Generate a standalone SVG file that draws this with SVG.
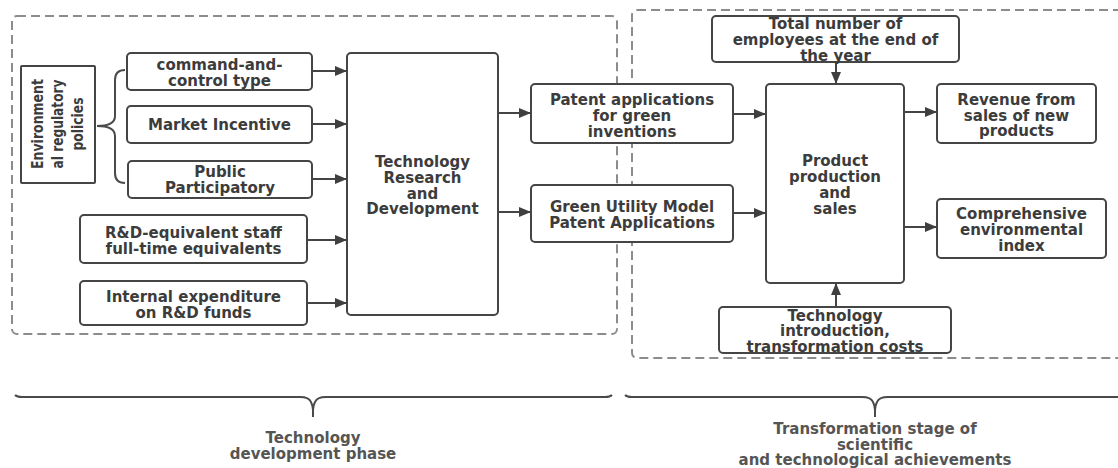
<svg xmlns="http://www.w3.org/2000/svg" width="1118" height="468" viewBox="0 0 1118 468">
  <defs>
    <marker id="arrow" viewBox="0 0 12 10" refX="12" refY="5" markerWidth="12" markerHeight="10" markerUnits="userSpaceOnUse" orient="auto">
      <path d="M0,0 L12,5 L0,10 Z" fill="#3f3f3f"/>
    </marker>
    <style>
      .box { fill: #ffffff; stroke: #454545; stroke-width: 2; }
      .stage { fill: none; stroke: #8c8c8c; stroke-width: 2; stroke-dasharray: 9 5; }
      .conn { fill: none; stroke: #444444; stroke-width: 2; marker-end: url(#arrow); }
      .brace { fill: none; stroke: #4a4a4a; stroke-width: 2; }
      .label { font-family: "DejaVu Sans", Verdana, sans-serif; font-weight: bold; font-size: 15px; fill: #3c3c3c; text-anchor: middle; }
      .phase { font-family: "DejaVu Sans", Verdana, sans-serif; font-weight: bold; font-size: 15px; fill: #555555; text-anchor: middle; }
    </style>
  </defs>

  <!-- stage frames -->
  <rect class="stage" x="12" y="16" width="605" height="318" rx="5"/>
  <rect class="stage" x="632" y="10" width="490" height="348" rx="5"/>

  <!-- connectors -->
  <g id="connectors">
    <path class="brace" d="M125,70 Q115,70 115,80 L115,116 Q115,126 97,126 Q115,126 115,136 L115,173 Q115,183 125,183"/>
    <line class="conn" x1="312" y1="71" x2="347" y2="71"/>
    <line class="conn" x1="312" y1="124" x2="347" y2="124"/>
    <line class="conn" x1="312" y1="179" x2="347" y2="179"/>
    <line class="conn" x1="307" y1="240" x2="347" y2="240"/>
    <line class="conn" x1="307" y1="303" x2="347" y2="303"/>
    <line class="conn" x1="498" y1="113" x2="531" y2="113"/>
    <line class="conn" x1="498" y1="212" x2="531" y2="212"/>
    <line class="conn" x1="733" y1="114" x2="766" y2="114"/>
    <line class="conn" x1="733" y1="213" x2="766" y2="213"/>
    <line class="conn" x1="836" y1="62" x2="836" y2="84"/>
    <line class="conn" x1="836" y1="307" x2="836" y2="283"/>
    <line class="conn" x1="904" y1="112" x2="937" y2="112"/>
    <line class="conn" x1="904" y1="227" x2="937" y2="227"/>
  </g>

  <g id="env-policies">
    <rect class="box" x="21" y="66" width="74" height="117" rx="1"/>
    <g transform="translate(58,124) rotate(-90)">
      <text class="label" x="0" y="-15" font-size="16" textLength="90" lengthAdjust="spacingAndGlyphs">Environment</text>
      <text class="label" x="0" y="5" font-size="16" textLength="89" lengthAdjust="spacingAndGlyphs">al regulatory</text>
      <text class="label" x="0" y="25" font-size="16" textLength="53" lengthAdjust="spacingAndGlyphs">policies</text>
    </g>
  </g>

  <g id="command-control">
    <rect class="box" x="127" y="53" width="185" height="37" rx="4"/>
    <text class="label" x="219.5" y="69.5">command-and-</text>
    <text class="label" x="219.5" y="85.5">control type</text>
  </g>

  <g id="market-incentive">
    <rect class="box" x="127" y="106" width="185" height="37" rx="4"/>
    <text class="label" x="219.5" y="129.5">Market Incentive</text>
  </g>

  <g id="public-participatory">
    <rect class="box" x="128" y="161" width="184" height="37" rx="4"/>
    <text class="label" x="220" y="177">Public</text>
    <text class="label" x="220" y="193">Participatory</text>
  </g>

  <g id="rd-staff">
    <rect class="box" x="80" y="215" width="227" height="48" rx="4"/>
    <text class="label" x="193.5" y="237.5">R&amp;D-equivalent staff</text>
    <text class="label" x="193.5" y="253.5">full-time equivalents</text>
  </g>

  <g id="rd-expenditure">
    <rect class="box" x="80" y="281" width="227" height="44" rx="4"/>
    <text class="label" x="193.5" y="301.5">Internal expenditure</text>
    <text class="label" x="193.5" y="317.5">on R&amp;D funds</text>
  </g>

  <g id="tech-rd">
    <rect class="box" x="347" y="53" width="151" height="262" rx="4"/>
    <text class="label" x="422.5" y="166.5">Technology</text>
    <text class="label" x="422.5" y="182.5">Research</text>
    <text class="label" x="422.5" y="198.5">and</text>
    <text class="label" x="422.5" y="214">Development</text>
  </g>

  <g id="patent-inventions">
    <rect class="box" x="531" y="84" width="202" height="59" rx="4"/>
    <text class="label" x="632" y="104.5">Patent applications</text>
    <text class="label" x="632" y="120.5">for green</text>
    <text class="label" x="632" y="136.5">inventions</text>
  </g>

  <g id="utility-model">
    <rect class="box" x="531" y="185" width="202" height="57" rx="4"/>
    <text class="label" x="632" y="211.5">Green Utility Model</text>
    <text class="label" x="632" y="227.5">Patent Applications</text>
  </g>

  <g id="employees">
    <rect class="box" x="712" y="16" width="247" height="46" rx="4"/>
    <text class="label" x="835.5" y="28.5">Total number of</text>
    <text class="label" x="835.5" y="44.5">employees at the end of</text>
    <text class="label" x="835.5" y="60.5">the year</text>
  </g>

  <g id="production-sales">
    <rect class="box" x="766" y="84" width="138" height="199" rx="4"/>
    <text class="label" x="835" y="166">Product</text>
    <text class="label" x="835" y="182">production</text>
    <text class="label" x="835" y="198">and</text>
    <text class="label" x="835" y="214">sales</text>
  </g>

  <g id="tech-introduction">
    <rect class="box" x="719" y="307" width="232" height="46" rx="4"/>
    <text class="label" x="835" y="320.5">Technology</text>
    <text class="label" x="835" y="336">introduction,</text>
    <text class="label" x="835" y="351.5">transformation costs</text>
  </g>

  <g id="new-product-revenue">
    <rect class="box" x="937" y="84" width="159" height="59" rx="4"/>
    <text class="label" x="1016.5" y="104.5">Revenue from</text>
    <text class="label" x="1016.5" y="120.5">sales of new</text>
    <text class="label" x="1016.5" y="136">products</text>
  </g>

  <g id="environmental-index">
    <rect class="box" x="937" y="199" width="169" height="59" rx="4"/>
    <text class="label" x="1021.5" y="218.5">Comprehensive</text>
    <text class="label" x="1021.5" y="234.5">environmental</text>
    <text class="label" x="1021.5" y="250.5">index</text>
  </g>

  <!-- phase braces and captions -->
  <g id="development-phase">
    <path class="brace" d="M15,395 Q17,397 22,397 L300,397 Q309,397 311,402 Q313,406 313,410 L313,417 M313,410 Q313,406 315,402 Q317,397 326,397 L605,397 Q610,397 612,395"/>
    <text class="phase" x="313" y="443">Technology</text>
    <text class="phase" x="313" y="459">development phase</text>
  </g>

  <g id="transformation-phase">
    <path class="brace" d="M625,395 Q627,397 632,397 L862,397 Q871,397 873,402 Q875,406 875,410 L875,417 M875,410 Q875,406 877,402 Q879,397 888,397 L1118,397"/>
    <text class="phase" x="875" y="434">Transformation stage of</text>
    <text class="phase" x="875" y="449.5">scientific</text>
    <text class="phase" x="875" y="465">and technological achievements</text>
  </g>
</svg>
